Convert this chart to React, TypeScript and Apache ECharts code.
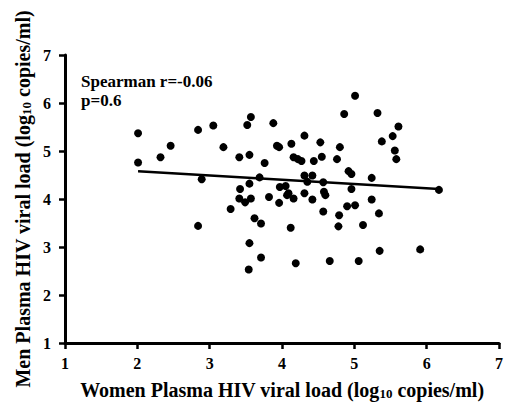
import React, { useEffect, useRef } from 'react';
import * as echarts from 'echarts';

const womenLoad = [
  2.01, 2.01, 2.32, 2.46, 2.84, 2.89, 2.84, 3.05, 3.19, 3.41,
  3.52, 3.57, 3.55, 3.76, 3.88, 3.93, 3.96, 4.13, 4.16, 4.22,
  4.27, 4.31, 4.44, 4.53, 4.55, 4.76, 4.80, 4.86, 4.92, 4.96,
  3.69, 4.31, 4.42, 4.35, 4.57, 3.42, 3.55, 3.97, 4.05, 5.01,
  5.32, 5.61, 5.53, 5.38, 5.56, 5.58, 5.24, 4.96, 6.17, 3.41,
  3.49, 3.57, 3.82, 4.07, 4.09, 4.16, 3.96, 4.31, 4.42, 4.58,
  4.60, 4.57, 4.90, 4.79, 4.78, 3.29, 3.62, 3.71, 4.12, 3.55,
  3.71, 3.54, 4.19, 4.66, 5.24, 5.01, 5.34, 5.12, 5.35, 5.91,
  5.06,
];

const menLoad = [
  5.37, 4.76, 4.87, 5.11, 5.44, 4.41, 3.44, 5.53, 5.08, 4.87,
  5.54, 5.71, 4.92, 4.75, 5.58, 5.11, 5.08, 5.15, 4.87, 4.83,
  4.79, 5.32, 4.79, 5.18, 4.88, 4.83, 5.08, 5.77, 4.58, 4.52,
  4.45, 4.49, 4.49, 4.36, 4.35, 4.21, 4.32, 4.25, 4.27, 6.15,
  5.79, 5.51, 5.31, 5.20, 5.01, 4.83, 4.44, 4.21, 4.19, 4.01,
  3.93, 4.01, 4.04, 4.08, 4.12, 4.01, 3.92, 4.12, 3.99, 4.15,
  4.08, 3.74, 3.85, 3.66, 3.43, 3.79, 3.60, 3.49, 3.40, 3.08,
  2.78, 2.53, 2.66, 2.71, 3.99, 3.87, 3.70, 3.46, 2.92, 2.95,
  2.71,
];

const fitX = [2.01, 6.17];
const fitY = [4.58, 4.21];

const axisMin = 1;
const axisMax = 7;
const axisStep = 1;

const annotationLines = ['Spearman r=-0.06', 'p=0.6'];
const xTitle = ['Women Plasma HIV viral load (log', '10', ' copies/ml)'];
const yTitle = ['Men Plasma HIV viral load (log', '10', ' copies/ml)'];

const FONT = 'Liberation Serif, serif';

export default function App() {
  const ref = useRef<HTMLDivElement>(null);
  useEffect(() => {
    if (!ref.current) return;
    const chart = echarts.init(ref.current, undefined, { renderer: 'svg' });
    const rich = {
      b: { fontSize: 20, fontWeight: 'bold', fontFamily: FONT, color: '#000', lineHeight: 24, verticalAlign: 'bottom' },
      s: { fontSize: 13, fontWeight: 'bold', fontFamily: FONT, color: '#000', lineHeight: 12, verticalAlign: 'bottom' },
    };
    const axisBase = {
      type: 'value',
      min: axisMin,
      max: axisMax,
      interval: axisStep,
      splitLine: { show: false },
      axisLine: { show: true, onZero: false, lineStyle: { color: '#000', width: 3 } },
      axisTick: { show: true, inside: false, length: 6, lineStyle: { color: '#000', width: 2.5 } },
      nameLocation: 'middle',
      nameMoveOverlap: false,
      nameTextStyle: { rich },
    };
    chart.setOption({
      animation: false,
      backgroundColor: '#fff',
      grid: { left: 65, right: 6, top: 55, bottom: 69, containLabel: false },
      xAxis: {
        ...axisBase,
        name: `{b|${xTitle[0]}}{s|${xTitle[1]}}{b|${xTitle[2]}}`,
        nameGap: 33,
        axisLabel: { color: '#000', fontSize: 16, fontWeight: 'bold', fontFamily: FONT, margin: 12 },
      },
      yAxis: {
        ...axisBase,
        name: `{b|${yTitle[0]}}{s|${yTitle[1]}}{b|${yTitle[2]}}`,
        nameGap: 32,
        axisLabel: { color: '#000', fontSize: 16, fontWeight: 'bold', fontFamily: FONT, margin: 14 },
      },
      graphic: [
        {
          type: 'text',
          left: 81,
          top: 72,
          style: {
            text: annotationLines.join('\n'),
            fill: '#000',
            fontSize: 17,
            fontWeight: 'bold',
            fontFamily: FONT,
            lineHeight: 19,
          },
        },
      ],
      series: [
        {
          type: 'scatter',
          data: womenLoad.map((x, i) => [x, menLoad[i]]),
          symbol: 'circle',
          symbolSize: 8,
          itemStyle: { color: '#000', opacity: 1 },
          z: 3,
        },
        {
          type: 'line',
          data: fitX.map((x, i) => [x, fitY[i]]),
          symbol: 'none',
          lineStyle: { color: '#000', width: 2.5, opacity: 1 },
          z: 2,
        },
      ],
    });
    return () => chart.dispose();
  }, []);
  return <div ref={ref} style={{ position: 'fixed', left: 0, top: 0, width: 506, height: 412 }} />;
}
